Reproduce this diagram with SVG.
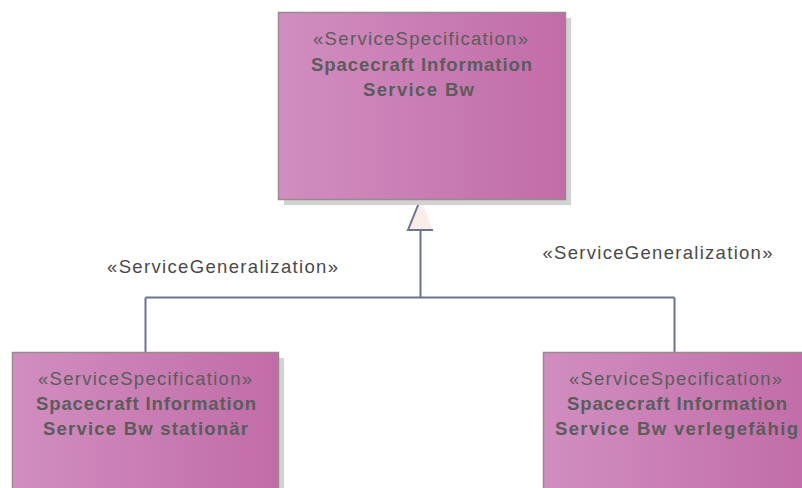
<svg xmlns="http://www.w3.org/2000/svg" width="802" height="488" viewBox="0 0 802 488">
<defs>
<linearGradient id="g" x1="0" y1="0" x2="1" y2="0">
<stop offset="0" stop-color="#D18EC0"/>
<stop offset="1" stop-color="#C16CA8"/>
</linearGradient>
<style>
.box{fill:url(#g);stroke:#9A8A8E;stroke-width:1.5}
.sh{fill:#D2D2D2}
.t{font-family:"Liberation Sans",Arial,sans-serif;font-size:18.5px;fill:#5C5C5C;text-anchor:middle}
.b{font-weight:bold}
.lbl{font-family:"Liberation Sans",Arial,sans-serif;font-size:18.5px;fill:#4A4A4A;text-anchor:middle}
.c{fill:none;stroke:#6B7391;stroke-width:2}
</style>
</defs>
<rect width="802" height="488" fill="#FFFFFF"/>
<g id="connectors">
<path class="c" d="M420.5,230 V297.5 M145.5,297.5 H674.5 M145.5,297.5 V352.5 M674.5,297.5 V352.5"/>
<polygon points="420.5,199 408,230 433,230" fill="#F8EDE8" stroke="none"/>
<path class="c" d="M420.5,199 L408,230 H433"/>
<text class="lbl" x="222.5" y="273" textLength="231" lengthAdjust="spacing">«ServiceGeneralization»</text>
<text class="lbl" x="657.5" y="259" textLength="230" lengthAdjust="spacing">«ServiceGeneralization»</text>
</g>
<g id="node-top">
<rect class="sh" x="284" y="18" width="287" height="187"/>
<rect class="box" x="278.5" y="12.5" width="287" height="187"/>
<text class="t" x="420.5" y="45" textLength="215" lengthAdjust="spacing">«ServiceSpecification»</text>
<text class="t b" x="421.5" y="71" textLength="221" lengthAdjust="spacing">Spacecraft Information</text>
<text class="t b" x="418.5" y="96" textLength="111" lengthAdjust="spacing">Service Bw</text>
</g>
<g id="node-stationaer">
<rect class="sh" x="18" y="358" width="266" height="140"/>
<rect class="box" x="12.5" y="352.5" width="266" height="150"/>
<text class="t" x="145" y="385" textLength="214" lengthAdjust="spacing">«ServiceSpecification»</text>
<text class="t b" x="146" y="410" textLength="220" lengthAdjust="spacing">Spacecraft Information</text>
<text class="t b" x="145.5" y="435" textLength="205" lengthAdjust="spacing">Service Bw stationär</text>
</g>
<g id="node-verlegefaehig">
<rect class="sh" x="549" y="358" width="266" height="140"/>
<rect class="box" x="543.5" y="352.5" width="266" height="150"/>
<text class="t" x="675.5" y="385" textLength="213" lengthAdjust="spacing">«ServiceSpecification»</text>
<text class="t b" x="677" y="410" textLength="220" lengthAdjust="spacing">Spacecraft Information</text>
<text class="t b" x="676.5" y="435" textLength="243" lengthAdjust="spacing">Service Bw verlegefähig</text>
</g>
</svg>
